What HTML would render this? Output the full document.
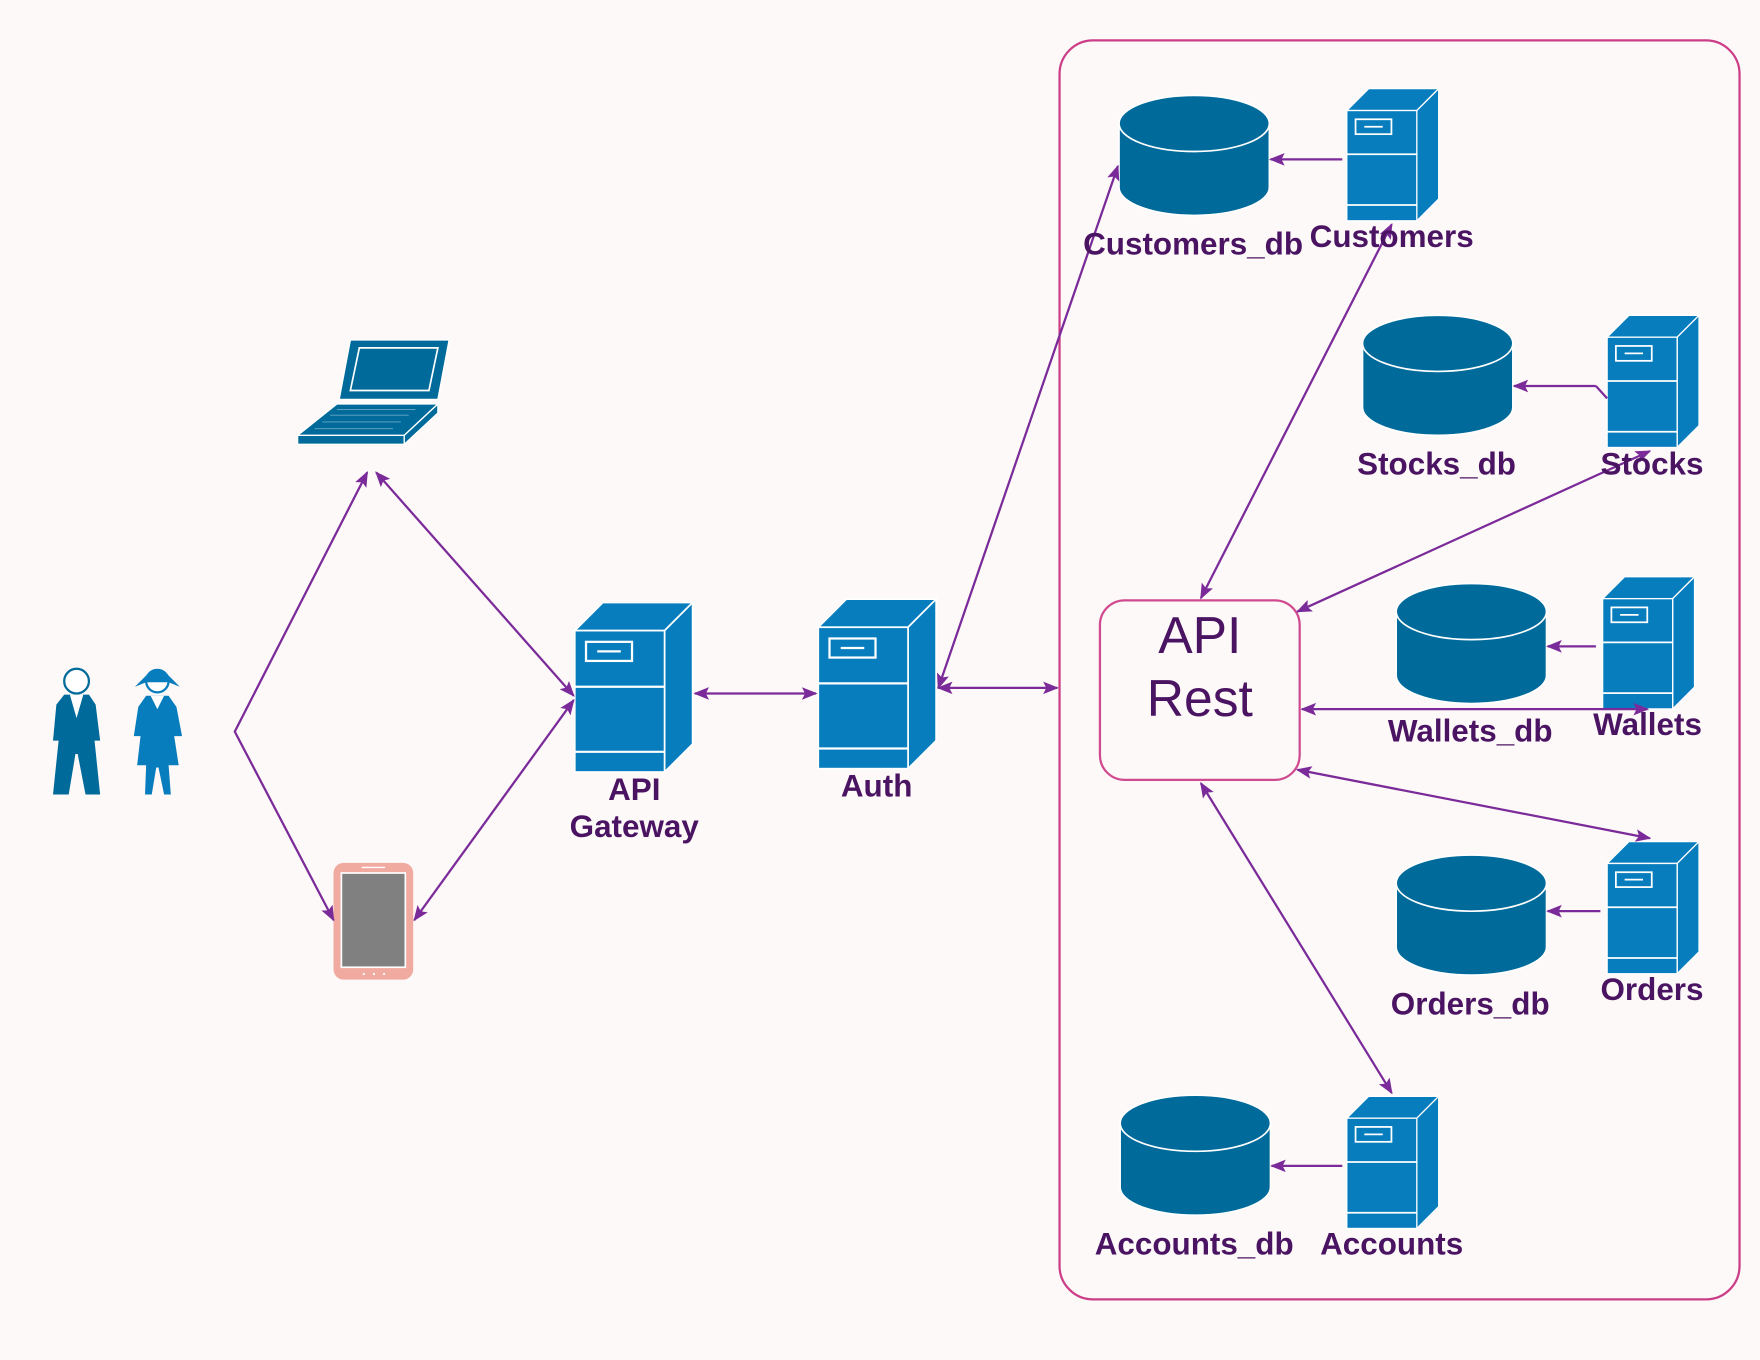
<!DOCTYPE html>
<html><head><meta charset="utf-8"><style>html,body{margin:0;padding:0;background:#fdf9f8}svg{display:block}</style></head><body>
<svg width="1760" height="1360" viewBox="0 0 1568 1212" xmlns="http://www.w3.org/2000/svg" font-family="Liberation Sans, sans-serif">
<defs>
<marker id="a" viewBox="0 0 10 10" refX="9" refY="5" markerWidth="14" markerHeight="14" markerUnits="userSpaceOnUse" orient="auto-start-reverse"><path d="M0,1 L10,5 L0,9 L2,5 z" fill="#7b2a99"/></marker>
<g id="srv">
<path d="M0,25 L25,0 L105,0 L80,25 z" fill="#087dbd" stroke="#fff" stroke-width="1.5"/>
<path d="M80,25 L105,0 L105,126 L80,151 z" fill="#087dbd" stroke="#fff" stroke-width="1.5"/>
<rect x="0" y="25" width="80" height="126" fill="#087dbd" stroke="#fff" stroke-width="1.5"/>
<line x1="0" y1="75" x2="80" y2="75" stroke="#fff" stroke-width="2"/>
<line x1="0" y1="133" x2="80" y2="133" stroke="#fff" stroke-width="2"/>
<rect x="10" y="35" width="41" height="17" fill="none" stroke="#fff" stroke-width="2"/>
<line x1="20" y1="43.5" x2="41" y2="43.5" stroke="#fff" stroke-width="2"/>
</g>
</defs>
<rect width="1568" height="1212" fill="#fdf9f8"/>
<rect x="944" y="36" width="606" height="1122" rx="30" fill="none" stroke="#cc3d88" stroke-width="2"/>
<rect x="980" y="535" width="178" height="160" rx="22" fill="none" stroke="#d04a8f" stroke-width="2"/>
<text x="1069" y="582" font-size="46" fill="#4a1463" text-anchor="middle">API</text>
<text x="1069" y="638" font-size="46" fill="#4a1463" text-anchor="middle">Rest</text>

<use href="#srv" transform="translate(512,537)"/>
<use href="#srv" transform="translate(729,534)"/>
<use href="#srv" transform="translate(1200,79) scale(0.78)"/>
<use href="#srv" transform="translate(1432,281) scale(0.78)"/>
<use href="#srv" transform="translate(1428,514) scale(0.78)"/>
<use href="#srv" transform="translate(1432,750) scale(0.78)"/>
<use href="#srv" transform="translate(1200,977) scale(0.78)"/>

<g fill="#006a9a" stroke="#fff" stroke-width="1.5">
<path d="M997,110 L997,167 A67,25 0 0 0 1131,167 L1131,110 z"/><ellipse cx="1064" cy="110" rx="67" ry="25"/>
<path d="M1214,306 L1214,363 A67,25 0 0 0 1348,363 L1348,306 z"/><ellipse cx="1281" cy="306" rx="67" ry="25"/>
<path d="M1244,545 L1244,602 A67,25 0 0 0 1378,602 L1378,545 z"/><ellipse cx="1311" cy="545" rx="67" ry="25"/>
<path d="M1244,787 L1244,844 A67,25 0 0 0 1378,844 L1378,787 z"/><ellipse cx="1311" cy="787" rx="67" ry="25"/>
<path d="M998,1001 L998,1058 A67,25 0 0 0 1132,1058 L1132,1001 z"/><ellipse cx="1065" cy="1001" rx="67" ry="25"/>
</g>

<g>
<ellipse cx="68" cy="607" rx="11" ry="11" fill="#fff" stroke="#006a9a" stroke-width="2"/>
<path d="M57,619 L79,619 L85,628 L89,660 L84,660 L89,708 L76,708 L69,672 L67,672 L61,708 L47,708 L52,660 L47,660 L50,628 z" fill="#006a9a"/>
<path d="M62,619 L74,619 L68,640 z" fill="#fff"/>
<ellipse cx="140" cy="607" rx="10" ry="10" fill="#fff" stroke="#087dbd" stroke-width="2"/>
<path d="M130,602 Q140,592 150,602 L160,612 L150,608 L130,608 L120,612 z" fill="#087dbd"/>
<path d="M130,620 L150,620 L157,630 L162,656 L155,656 L159,682 L150,682 L152,708 L146,708 L141,684 L139,684 L135,708 L129,708 L130,682 L122,682 L125,656 L119,656 L123,630 z" fill="#087dbd"/>
<path d="M134,620 L146,620 L140,632 z" fill="#fff"/>
</g>

<g stroke="#fff" stroke-width="1.2">
<path d="M302,356 L312,303 L400,303 L390,356 z" fill="#006a9a"/>
<path d="M312,348 L320,310 L390,310 L382,348 z" fill="none" stroke="#fff" stroke-width="1.5"/>
<path d="M265,388 L300,360 L390,360 L360,388 z" fill="#006a9a"/>
<path d="M265,388 L360,388 L360,396 L265,396 z" fill="#006a9a"/>
<path d="M360,388 L390,360 L390,368 L360,396 z" fill="#006a9a"/>
<path d="M280,382 L350,382 M287,376 L357,376 M294,370 L364,370 M300,365 L370,365" stroke="#6aa8c8" stroke-width="0.8"/>
</g>

<rect x="297" y="769" width="71" height="104" rx="9" fill="#f0aaa0"/>
<rect x="304" y="778" width="57" height="84" fill="#808080" stroke="#fff" stroke-width="1.5"/>
<line x1="322" y1="773" x2="343" y2="773" stroke="#fff" stroke-width="1.2"/>
<circle cx="324" cy="868" r="1" fill="#fff"/><circle cx="333" cy="868" r="1" fill="#fff"/><circle cx="342" cy="868" r="1" fill="#fff"/>

<g stroke="#7b2a99" stroke-width="2" fill="none">
<path d="M327,421 L209,652 L297,820" marker-end="url(#a)" marker-start="url(#a)"/>
<line x1="335" y1="421" x2="511" y2="620" marker-start="url(#a)" marker-end="url(#a)"/>
<line x1="369" y1="820" x2="511" y2="624" marker-start="url(#a)" marker-end="url(#a)"/>
<line x1="619" y1="618" x2="727" y2="618" marker-start="url(#a)" marker-end="url(#a)"/>
<line x1="836" y1="613" x2="996" y2="148" marker-start="url(#a)" marker-end="url(#a)"/>
<line x1="836" y1="613" x2="942" y2="613" marker-start="url(#a)" marker-end="url(#a)"/>
<line x1="1196" y1="142" x2="1132" y2="142" marker-end="url(#a)"/>
<line x1="1240" y1="200" x2="1070" y2="533" marker-start="url(#a)" marker-end="url(#a)"/>
<line x1="1432" y1="355" x2="1422" y2="344"/>
<line x1="1422" y1="344" x2="1349" y2="344" marker-end="url(#a)"/>
<line x1="1470" y1="402" x2="1156" y2="545" marker-start="url(#a)" marker-end="url(#a)"/>
<line x1="1422" y1="576" x2="1379" y2="576" marker-end="url(#a)"/>
<line x1="1160" y1="632" x2="1468" y2="632" marker-start="url(#a)" marker-end="url(#a)"/>
<line x1="1156" y1="686" x2="1470" y2="747" marker-start="url(#a)" marker-end="url(#a)"/>
<line x1="1426" y1="812" x2="1379" y2="812" marker-end="url(#a)"/>
<line x1="1070" y1="698" x2="1240" y2="974" marker-start="url(#a)" marker-end="url(#a)"/>
<line x1="1196" y1="1039" x2="1133" y2="1039" marker-end="url(#a)"/>
</g>

<g font-size="28" font-weight="bold" fill="#4a1463" text-anchor="middle">
<text x="565" y="713">API</text>
<text x="565" y="746">Gateway</text>
<text x="781" y="710">Auth</text>
<text x="1063" y="227">Customers_db</text>
<text x="1240" y="220">Customers</text>
<text x="1280" y="423">Stocks_db</text>
<text x="1472" y="423">Stocks</text>
<text x="1310" y="661">Wallets_db</text>
<text x="1468" y="655">Wallets</text>
<text x="1310" y="904">Orders_db</text>
<text x="1472" y="891">Orders</text>
<text x="1064" y="1118">Accounts_db</text>
<text x="1240" y="1118">Accounts</text>
</g>
</svg>
</body></html>
